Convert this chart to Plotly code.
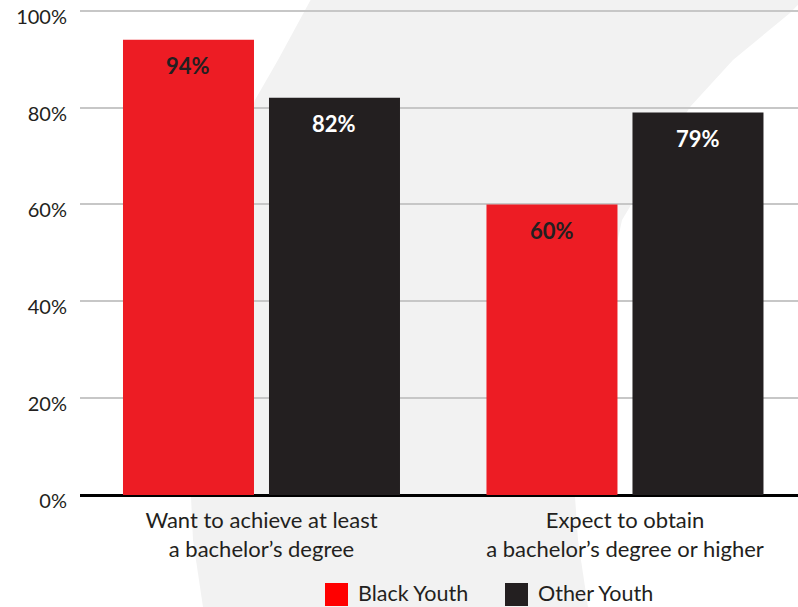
import plotly.graph_objects as go

categories = ["Want to achieve at least<br>a bachelor’s degree",
              "Expect to obtain<br>a bachelor’s degree or higher"]
series_names = ["Black Youth", "Other Youth"]
black_youth = [94, 60]
other_youth = [82, 79]
y_ticks = [0, 20, 40, 60, 80, 100]
y_tick_labels = ["0%", "20%", "40%", "60%", "80%", "100%"]

RED = "#ed1c24"
DARK = "#231f20"
TEXT = "#231f20"
FONT = "Lato"

W, H = 798, 607
L, R, T, B = 80, 0, 1, 112
PW = W - L - R
PH = H - T - B


def px(X):
    return (X - L) / PW


def py(Y):
    return (H - B - Y) / PH


fig = go.Figure()
fig.add_trace(go.Bar(x=categories, y=black_youth, name=series_names[0],
                     marker=dict(color=RED, line=dict(width=0)), showlegend=False))
fig.add_trace(go.Bar(x=categories, y=other_youth, name=series_names[1],
                     marker=dict(color=DARK, line=dict(width=0)), showlegend=False))

annotations = []
for i, c in enumerate(categories):
    annotations.append(dict(x=c, y=black_youth[i], xref="x", yref="y", text=f"<b>{black_youth[i]}%</b>",
                            showarrow=False, xshift=-73, yshift=-26, yanchor="middle",
                            font=dict(family=FONT, size=22, color=TEXT)))
    annotations.append(dict(x=c, y=other_youth[i], xref="x", yref="y", text=f"<b>{other_youth[i]}%</b>",
                            showarrow=False, xshift=73, yshift=-26, yanchor="middle",
                            font=dict(family=FONT, size=22, color="white")))

# manual legend (large square swatches)
legend_items = [(series_names[0], "#ff0000", 325), (series_names[1], DARK, 505)]
shapes = []
for name, col, x0 in legend_items:
    shapes.append(dict(type="rect", xref="paper", yref="paper",
                       x0=px(x0), x1=px(x0 + 23), y0=py(606), y1=py(583),
                       fillcolor=col, line=dict(width=0), layer="above"))
    annotations.append(dict(x=px(x0 + 31), y=py(593), xref="paper", yref="paper", text=name,
                            showarrow=False, xanchor="left", yanchor="middle",
                            font=dict(family=FONT, size=21.5, color=TEXT)))

# decorative background swoosh
right_edge = [(812, -10), (790, 13), (733, 60), (690, 107), (622, 220), (596, 340), (580, 440),
              (575, 497), (578, 540), (588, 607), (590, 625)]
left_edge = [(205, 625), (203, 607), (193, 540), (191, 497), (195, 420), (210, 300), (232, 180),
             (255, 100), (278, 60), (316, -10)]
pts = right_edge + left_edge
path = "M " + " L ".join(f"{px(X):.5f},{py(Y):.5f}" for X, Y in pts) + " Z"
shapes.insert(0, dict(type="path", xref="paper", yref="paper", path=path,
                      fillcolor="#f2f2f2", line=dict(width=0), layer="below"))

fig.update_layout(
    width=W, height=H,
    margin=dict(l=L, r=R, t=T, b=B, pad=0, autoexpand=False),
    paper_bgcolor="white", plot_bgcolor="rgba(0,0,0,0)",
    barmode="group", bargap=0.1967, bargroupgap=0.1027,
    showlegend=False,
    annotations=annotations, shapes=shapes,
    font=dict(family=FONT, color=TEXT),
)
fig.update_xaxes(type="category", range=[-0.4993, 1.476], showgrid=False, showline=False,
                 automargin=False,
                 ticks="", tickfont=dict(family=FONT, size=22, color=TEXT), ticklabelstandoff=10)
fig.update_yaxes(range=[0, 102], tickvals=y_ticks, ticktext=y_tick_labels,
                 automargin=False,
                 showgrid=True, gridcolor="#c7c7c7", gridwidth=2,
                 zeroline=True, zerolinecolor="#000000", zerolinewidth=2.5,
                 showline=False, ticks="", ticklabelstandoff=12, ticklabelshift=6,
                 ticklabeloverflow="allow",
                 tickfont=dict(family=FONT, size=20, color=TEXT))

fig.write_html("out.html")
